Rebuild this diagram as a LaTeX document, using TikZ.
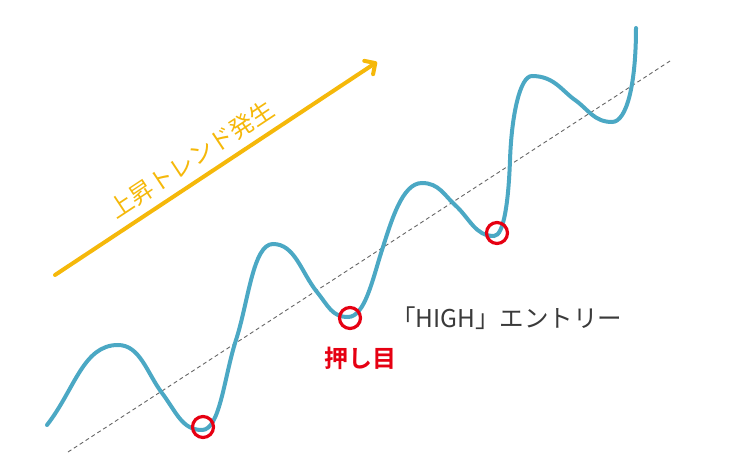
\documentclass[tikz,border=0pt]{standalone}
\usepackage{fontspec}
\usepackage{xcolor}
\setmainfont{Noto Sans CJK JP}
\newfontfamily\jpbold{Noto Sans CJK JP Bold}
\usetikzlibrary{arrows.meta}
\definecolor{TrendYellow}{HTML}{F5B80A}
\definecolor{PriceBlue}{HTML}{4BA8C4}
\definecolor{DipRed}{HTML}{E60012}
\definecolor{TextGrey}{HTML}{3A3A3A}
\begin{document}
\begin{tikzpicture}[x=1pt, y=1pt]
        \tikzset{price/.style = {draw = PriceBlue, line width = 4pt, line cap = round}}
        \tikzset{dip/.style = {shape=circle, draw = DipRed, line width = 3.2pt, minimum size = 21pt, inner sep = 0pt}}
        \tikzset{trendline/.style = {draw = gray!80!black, line width = 0.9pt, dash pattern = on 4pt off 3pt}}
        \useasboundingbox (0,0) rectangle (737,472);
        % extrema of the price curve
        \coordinate (s0) at (47,47);
        \coordinate (p1) at (118,127);
        \coordinate (t1) at (202,42);
        \coordinate (p2) at (273,228);
        \coordinate (t2) at (348,155);
        \coordinate (p3) at (422,289);
        \coordinate (t3) at (494,236);
        \coordinate (p4) at (532,396);
        \coordinate (t4) at (612,350);
        \coordinate (e0) at (636,444);
        % turning points in between
        \coordinate (m1) at (162,79);
        \coordinate (m2) at (236,132);
        \coordinate (m3) at (317,180);
        \coordinate (m4) at (382,222);
        \coordinate (m5) at (455,267);
        \coordinate (m6) at (510,312);
        \coordinate (m7) at (575,372);
        % dashed trend line
        \coordinate (d0) at (68,20);
        \coordinate (d1) at (670,411);
        \draw[trendline] (d0) -- (d1);
        % price curve
        \draw[price] (s0) .. controls +(52:45) and +(-35,0) .. (p1)
                .. controls +(22,0) and +(127:25) .. (m1)
                .. controls +(-53:24) and +(-20,0) .. (t1)
                .. controls +(18,0) and +(252:38) .. (m2)
                .. controls +(72:40) and +(-20,0) .. (p2)
                .. controls +(22,0) and +(129:25) .. (m3)
                .. controls +(-51:18) and +(-16,0) .. (t2)
                .. controls +(17,0) and +(252:30) .. (m4)
                .. controls +(72:30) and +(-20,0) .. (p3)
                .. controls +(17,0) and +(138:14) .. (m5)
                .. controls +(-42:20) and +(-19,0) .. (t3)
                .. controls +(10,0) and +(268:40) .. (m6)
                .. controls +(88:45) and +(-12,0) .. (p4)
                .. controls +(22,0) and +(145:16) .. (m7)
                .. controls +(-35:16) and +(-18,0) .. (t4)
                .. controls +(15,0) and +(0,-55) .. (e0);
        % dips
        \node[dip] (c1) at (203,45) {};
        \node[dip] (c2) at (350,154) {};
        \node[dip] (c3) at (497,239) {};
        % labels
        \node[anchor=west, text=TextGrey, font=\fontsize{24.5}{28}\selectfont, inner sep=0pt] (entry) at (391,154) {「HIGH」エントリー};
        \node[text=DipRed, font=\jpbold\fontsize{24}{28}\selectfont, inner sep=0pt] (oshime) at (360,114) {押し目};
        % trend arrow
        \coordinate (a0) at (55,197);
        \coordinate (a1) at (377,410);
        \draw[draw = TrendYellow, line width = 4pt, line cap = round,
              -{Straight Barb[length=8pt, width=16pt, line cap=round, line join=round]}]
              (a0) -- (a1) node[pos=0.46, above=8pt, sloped, text=TrendYellow, inner sep=0pt,
              font=\fontsize{24}{28}\selectfont] (trend) {上昇トレンド発生};
\end{tikzpicture}
\end{document}
